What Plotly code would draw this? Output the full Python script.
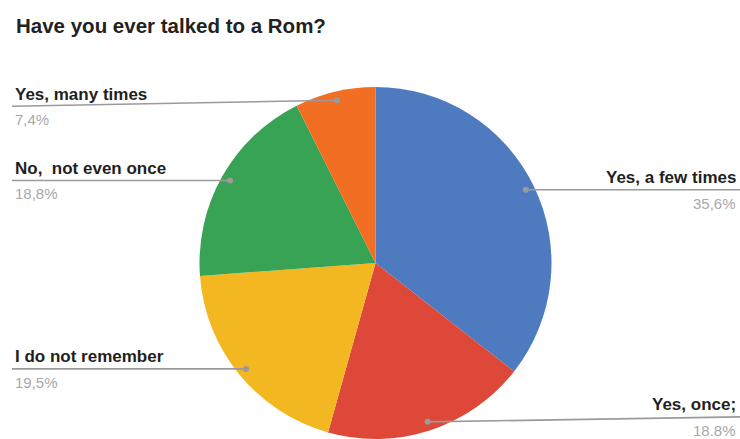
import math
import plotly.graph_objects as go

# Survey answers, in clockwise order starting at 12 o'clock
labels = ["Yes, a few times", "Yes, once;", "I do not remember",
          "No,\u00a0 not even once", "Yes, many times"]
values = [35.6, 18.8, 19.5, 18.8, 7.4]
pct_text = ["35,6%", "18.8%", "19,5%", "18,8%", "7,4%"]
colors = ["#4e7abf", "#de4838", "#f2b721", "#38a255", "#f26e22"]
title = "Have you ever talked to a Rom?"

# Canvas and pie geometry (pixels)
W, H = 740, 439
CX, CY, R = 375.5, 263.0, 176.0
DOT_R = 0.95 * R
side = ["right", "right", "left", "left", "left"]
edge_shift = [0, -5, 0, 0, 6]   # vertical offset of the leader end at the chart edge

FONT = "Liberation Sans, Arial, sans-serif"
LINE_COLOR = "#9a9a9a"


def px(x):
    return x / W


def py(y):
    return 1 - y / H


fig = go.Figure(go.Pie(
    labels=labels,
    values=values,
    sort=False,
    direction="clockwise",
    rotation=0,
    marker=dict(colors=colors, line=dict(width=0)),
    textinfo="none",
    hoverinfo="label+percent",
    showlegend=False,
    domain=dict(x=[px(CX - R), px(CX + R)], y=[py(CY + R), py(CY - R)]),
))

shapes = []
annotations = []
total = sum(values)
cum = 0.0
for i, v in enumerate(values):
    mid = (cum + v / 2) / total * 2 * math.pi
    cum += v
    dx = CX + DOT_R * math.sin(mid)
    dy = CY - DOT_R * math.cos(mid)
    ey = dy + edge_shift[i]
    if side[i] == "left":
        x0, y0, x1, y1 = 12, ey, dx, dy
        tx, anchor = 13, "left"
    else:
        x0, y0, x1, y1 = dx, dy, W, ey
        tx, anchor = 738, "right"
    shapes.append(dict(type="line", xref="paper", yref="paper",
                       x0=px(x0), y0=py(y0), x1=px(x1), y1=py(y1),
                       line=dict(color=LINE_COLOR, width=1.6), layer="above"))
    shapes.append(dict(type="circle", xref="paper", yref="paper",
                       x0=px(dx - 3), x1=px(dx + 3), y0=py(dy + 3), y1=py(dy - 3),
                       fillcolor=LINE_COLOR, line=dict(width=0), layer="above"))
    annotations.append(dict(text=f"<b>{labels[i]}</b>", xref="paper", yref="paper",
                            x=px(tx), y=py(ey - 12), xanchor=anchor, yanchor="middle",
                            showarrow=False,
                            font=dict(family=FONT, size=17, color="#1f1f1f")))
    annotations.append(dict(text=pct_text[i], xref="paper", yref="paper",
                            x=px(tx), y=py(ey + 13.5), xanchor=anchor, yanchor="middle",
                            showarrow=False,
                            font=dict(family=FONT, size=15, color="#a8a8a8")))

annotations.append(dict(text=f"<b>{title}</b>", xref="paper", yref="paper",
                        x=px(14), y=py(25), xanchor="left", yanchor="middle",
                        showarrow=False,
                        font=dict(family=FONT, size=20.5, color="#222222")))

fig.update_layout(
    width=W, height=H,
    margin=dict(l=0, r=0, t=0, b=0),
    paper_bgcolor="white",
    plot_bgcolor="white",
    shapes=shapes,
    annotations=annotations,
)

fig.write_html("out.html")
